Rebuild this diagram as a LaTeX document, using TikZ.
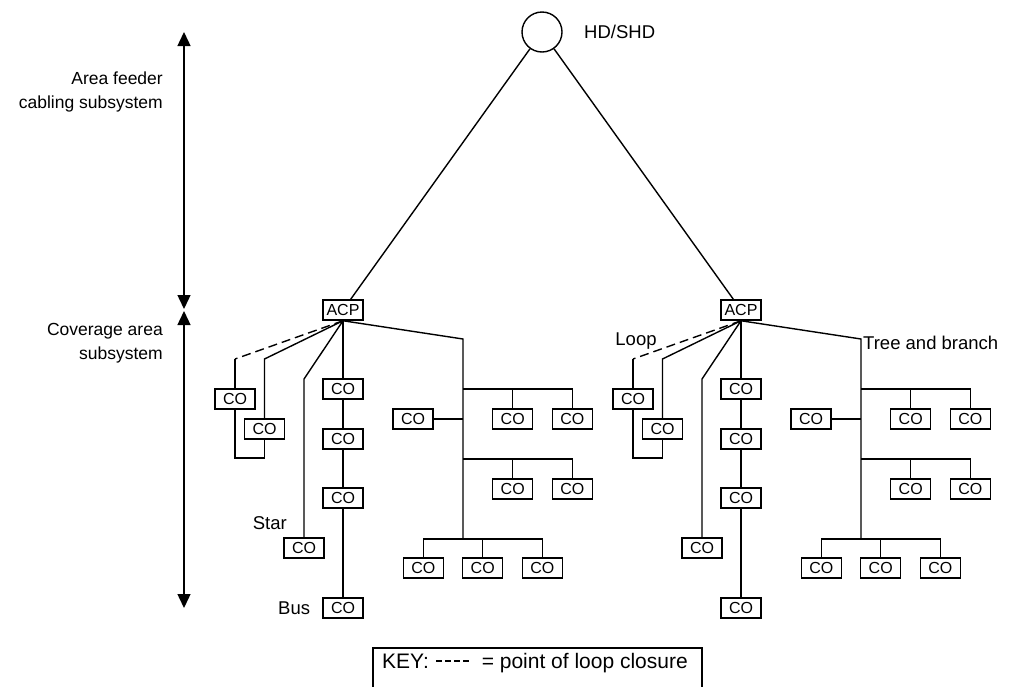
\documentclass[tikz,border=0pt]{standalone}
\usepackage{fontspec}
\setmainfont{Liberation Sans}
\usetikzlibrary{arrows.meta, positioning}

\begin{document}
\begin{tikzpicture}[x=1pt, y=-1pt,
co/.style={draw, line width=1.5pt, minimum width=40pt, minimum height=20pt, inner sep=0pt, font=\fontsize{16}{18}\selectfont},
lbl/.style={inner sep=0pt, font=\fontsize{18.5}{24}\selectfont},
side/.style={inner sep=0pt, font=\fontsize{17.5}{24}\selectfont},
keyfont/.style={inner sep=0pt, font=\fontsize{21}{24}\selectfont},
link/.style={line width=1.4pt},
closure/.style={link, dash pattern=on 9pt off 5pt},
span/.style={line width=1.4pt, {Triangle[width=13pt,length=14pt]}-{Triangle[width=13pt,length=14pt]}}]
\useasboundingbox (0,0) rectangle (1009,686);
\clip (0,0) rectangle (1009,686);

% distributor at the top
\node (hd) at (542,32) [circle, draw, line width=1.4pt, minimum size=40pt, inner sep=0pt] {};
\node (hdlbl) at (584,32) [lbl, anchor=west] {HD/SHD};

% subsystem extents
\coordinate (span-top) at (184,32);
\coordinate (span-mid1) at (184,309);
\coordinate (span-mid2) at (184,311);
\coordinate (span-bot) at (184,608);
\draw [span] (span-top) -- (span-mid1);
\draw [span] (span-mid2) -- (span-bot);
\node (feeder) at (163,92) [side, anchor=east, align=right] {Area feeder\\cabling subsystem};
\node (coverage) at (163,343) [side, anchor=east, align=right] {Coverage area\\subsystem};

% left area
\begin{scope}
\node (l-acp) at (343,310) [co] {ACP};
\draw [link] (hd) -- (l-acp);
% loop
\coordinate (l-lp1) at (235,359);
\coordinate (l-lp2) at (264.5,359);
\coordinate (l-lp3) at (235,458);
\coordinate (l-lp4) at (264.5,458);
\node (l-co1) at (235,399) [co] {CO};
\node (l-co2) at (264.5,429) [co] {CO};
\draw [closure] (l-acp.south) -- (l-lp1);
\draw [link] (l-lp1) -- (l-co1);
\draw [link] (l-acp.south) -- (l-lp2) -- (l-co2);
\draw [link] (l-co2) -- (l-lp4) -- (l-lp3) -- (l-co1);
% star
\coordinate (l-st) at (304,379);
\node (l-co3) at (304,548) [co] {CO};
\draw [link] (l-acp.south) -- (l-st) -- (l-co3);
\node (l-star) at (287,523) [lbl, anchor=east] {Star};
% bus
\node (l-b1) at (343,389) [co] {CO};
\node (l-b2) at (343,439) [co] {CO};
\node (l-b3) at (343,498) [co] {CO};
\node (l-b4) at (343,608) [co] {CO};
\draw [link] (l-acp) -- (l-b1) -- (l-b2) -- (l-b3) -- (l-b4);
\node (l-bus) [lbl, left=12pt of l-b4] {Bus};
% tree
\coordinate (l-t0) at (463,339);
\coordinate (l-t1) at (463,389);
\coordinate (l-t2) at (463,419);
\coordinate (l-t3) at (463,459);
\coordinate (l-t4) at (463,539);
\node (l-co4) at (413,419) [co] {CO};
\node (l-co5) at (512.7,419) [co] {CO};
\node (l-co6) at (572.3,419) [co] {CO};
\node (l-co7) at (512.7,489) [co] {CO};
\node (l-co8) at (572.3,489) [co] {CO};
\node (l-co9) at (423.3,568) [co] {CO};
\node (l-co10) at (482.7,568) [co] {CO};
\node (l-co11) at (542.3,568) [co] {CO};
\draw [link] (l-acp.south) -- (l-t0) -- (l-t4);
\draw [link] (l-t2) -- (l-co4);
\draw [link] (l-t1) -| (l-co6);
\draw [link] (l-co5) |- (l-t1);
\draw [link] (l-t3) -| (l-co8);
\draw [link] (l-co7) |- (l-t3);
\draw [link] (l-co9) |- (l-t4) -| (l-co11);
\draw [link] (l-co10) |- (l-t4);
\end{scope}

% right area
\begin{scope}[shift={(398,0)}]
\node (r-acp) at (343,310) [co] {ACP};
\draw [link] (hd) -- (r-acp);
% loop
\coordinate (r-lp1) at (235,359);
\coordinate (r-lp2) at (264.5,359);
\coordinate (r-lp3) at (235,458);
\coordinate (r-lp4) at (264.5,458);
\node (r-co1) at (235,399) [co] {CO};
\node (r-co2) at (264.5,429) [co] {CO};
\draw [closure] (r-acp.south) -- (r-lp1);
\draw [link] (r-lp1) -- (r-co1);
\draw [link] (r-acp.south) -- (r-lp2) -- (r-co2);
\draw [link] (r-co2) -- (r-lp4) -- (r-lp3) -- (r-co1);
\node (r-loop) at (238,341) [lbl] {Loop};
% star
\coordinate (r-st) at (304,379);
\node (r-co3) at (304,548) [co] {CO};
\draw [link] (r-acp.south) -- (r-st) -- (r-co3);
% bus
\node (r-b1) at (343,389) [co] {CO};
\node (r-b2) at (343,439) [co] {CO};
\node (r-b3) at (343,498) [co] {CO};
\node (r-b4) at (343,608) [co] {CO};
\draw [link] (r-acp) -- (r-b1) -- (r-b2) -- (r-b3) -- (r-b4);
% tree
\coordinate (r-t0) at (463,339);
\coordinate (r-t1) at (463,389);
\coordinate (r-t2) at (463,419);
\coordinate (r-t3) at (463,459);
\coordinate (r-t4) at (463,539);
\node (r-co4) at (413,419) [co] {CO};
\node (r-co5) at (512.7,419) [co] {CO};
\node (r-co6) at (572.3,419) [co] {CO};
\node (r-co7) at (512.7,489) [co] {CO};
\node (r-co8) at (572.3,489) [co] {CO};
\node (r-co9) at (423.3,568) [co] {CO};
\node (r-co10) at (482.7,568) [co] {CO};
\node (r-co11) at (542.3,568) [co] {CO};
\draw [link] (r-acp.south) -- (r-t0) -- (r-t4);
\draw [link] (r-t2) -- (r-co4);
\draw [link] (r-t1) -| (r-co6);
\draw [link] (r-co5) |- (r-t1);
\draw [link] (r-t3) -| (r-co8);
\draw [link] (r-co7) |- (r-t3);
\draw [link] (r-co9) |- (r-t4) -| (r-co11);
\draw [link] (r-co10) |- (r-t4);
\node (r-tree) at (465,343) [lbl, anchor=west] {Tree and branch};
\end{scope}

% key
\draw [line width=1.2pt] (373,648) rectangle (702,700);
\node (key) at (382,668) [keyfont, anchor=base west] {KEY:};
\coordinate (key-d1) at (436,661);
\coordinate (key-d2) at (469,661);
\draw [link, dash pattern=on 6pt off 3pt] (key-d1) -- (key-d2);
\node (key-text) at (688,668) [keyfont, anchor=base east] {= point of loop closure};
\end{tikzpicture}
\end{document}
